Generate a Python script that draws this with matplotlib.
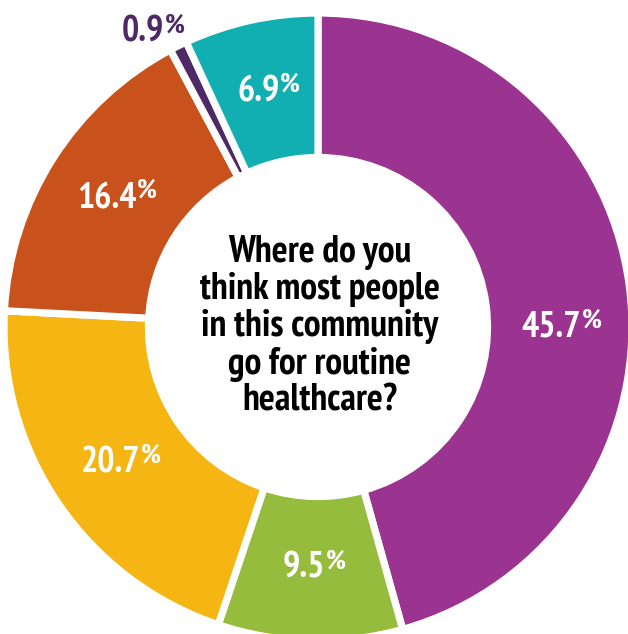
import numpy as np
import matplotlib
matplotlib.use("Agg")
import matplotlib.pyplot as plt
from matplotlib import font_manager

# Survey shares, clockwise from 12 o'clock
shares = [45.7, 9.5, 20.7, 16.4, 0.9, 6.9]
share_labels = ["45.7", "9.5", "20.7", "16.4", "0.9", "6.9"]
slice_colors = ["#9b3391", "#96bc3d", "#f5b614", "#c9511b", "#4f2868", "#11afb1"]
label_colors = ["white", "white", "white", "white", "#4f2868", "white"]
question = "Where do you\nthink most people\nin this community\ngo for routine\nhealthcare?"

# pick a condensed bold face if one is installed
available = {f.name for f in font_manager.fontManager.ttflist}
preferred = ["PT Sans Narrow", "Fira Sans Condensed", "Roboto Condensed",
             "Open Sans Condensed", "IBM Plex Sans Condensed", "Asap Condensed",
             "Liberation Sans Narrow", "Liberation Sans"]
family = next(name for name in preferred if name in available)
plt.rcParams["font.family"] = [family, "DejaVu Sans"]

fig = plt.figure(figsize=(6.28, 6.34), dpi=100)
ax = fig.add_axes([0, 0, 1, 1])

outer = 314
ring = 144.5
ax.pie(
    shares,
    colors=slice_colors,
    startangle=90,
    counterclock=False,
    radius=outer,
    wedgeprops=dict(width=ring, edgecolor="white", linewidth=5.2),
)

# centre of the ring sits at pixel (318, 327) of the canvas
ax.set_xlim(-318, 310)
ax.set_ylim(-307, 327)
ax.set_aspect("equal")
ax.axis("off")

total = sum(shares)
ends = np.cumsum(shares) / total * 360
starts = ends - np.array(shares) / total * 360
mids = 90 - (starts + ends) / 2

for i, (value, color) in enumerate(zip(share_labels, label_colors)):
    angle, r = mids[i], 241
    if i == 0:
        angle = 0
    if shares[i] < 2:
        # tiny slice: label sits outside the ring
        angle, r = 119.6, 339
    x = r * np.cos(np.radians(angle))
    y = r * np.sin(np.radians(angle))
    num = ax.text(x - 8, y, value, ha="center", va="center", color=color,
                  fontsize=26, fontweight="bold")
    ax.annotate("%", xy=(1, 1), xycoords=num, xytext=(0.5, 1.5),
                textcoords="offset points", ha="left", va="top",
                color=color, fontsize=20, fontweight="bold")

ax.text(2, 0, question, ha="center", va="center", fontsize=27,
        fontweight="bold", color="black", linespacing=1.08)

fig.savefig("out.png", dpi=100, facecolor="white")
